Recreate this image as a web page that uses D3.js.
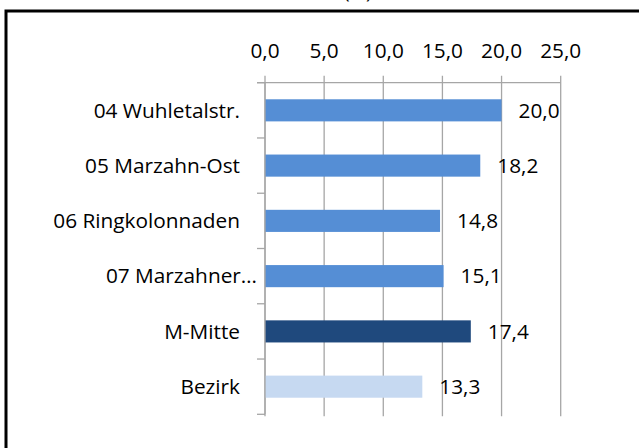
<!DOCTYPE html>
<html>
<head>
<meta charset="utf-8">
<script src="https://cdn.jsdelivr.net/npm/d3@7"></script>
<style>
  body { margin: 0; background: #fff; }
  text { font-family: "Open Sans", sans-serif; fill: #000; }
</style>
</head>
<body>
<script>
// data
var categories = ["04 Wuhletalstr.", "05 Marzahn-Ost", "06 Ringkolonnaden", "07 Marzahner…", "M-Mitte", "Bezirk"];
var values = [20.0, 18.2, 14.8, 15.1, 17.4, 13.3];
var barColors = ["#558ed5", "#558ed5", "#558ed5", "#558ed5", "#1f497d", "#c6d9f1"];
var tickValues = [0, 5, 10, 15, 20, 25];

var width = 639, height = 448;
var fontSize = 20.8;

var svg = d3.select("body").append("svg")
    .attr("width", width)
    .attr("height", height);

// chart frame (runs off the right and bottom edge)
svg.append("rect")
    .attr("x", 6).attr("y", 11)
    .attr("width", 660).attr("height", 460)
    .style("fill", "none")
    .style("stroke", "#000")
    .style("stroke-width", 3);

// title, only the bottom of it is visible
svg.append("text")
    .attr("x", 372).attr("y", -2)
    .attr("text-anchor", "end")
    .style("font-size", "20px")
    .text("(%)");

var plotTop = 82.7, plotBottom = 414.3;

var x = d3.scaleLinear()
    .domain([0, 25])
    .range([265, 560.7]);

var y = d3.scaleBand()
    .domain(categories)
    .range([plotTop, plotBottom])
    .paddingInner(0.6)
    .paddingOuter(0.3);

var yCat = d3.scaleBand()
    .domain(categories)
    .range([plotTop, plotBottom]);

var locale = d3.formatLocale({decimal: ",", thousands: ".", grouping: [3], currency: ["", " €"]});
var fmt = locale.format(".1f");

// vertical gridlines
svg.selectAll(".grid")
    .data(tickValues)
    .enter()
    .append("line")
    .attr("class", "grid")
    .attr("x1", function(d) { return x(d); })
    .attr("x2", function(d) { return x(d); })
    .attr("y1", plotTop - 7)
    .attr("y2", plotBottom + 2)
    .style("stroke", "#a6a6a6")
    .style("stroke-width", 1.3);

// top axis line
svg.append("line")
    .attr("x1", x(0) - 8).attr("x2", x(25))
    .attr("y1", plotTop).attr("y2", plotTop)
    .style("stroke", "#a6a6a6")
    .style("stroke-width", 1.3);

// top tick labels
svg.selectAll(".xlabel")
    .data(tickValues)
    .enter()
    .append("text")
    .attr("class", "xlabel")
    .attr("x", function(d) { return x(d); })
    .attr("y", 58)
    .attr("text-anchor", "middle")
    .style("font-size", fontSize + "px")
    .text(function(d) { return fmt(d); });

// left category axis with ticks on band boundaries
var bounds = categories.map(function(c) { return yCat(c); }).concat([plotBottom]);
svg.selectAll(".ytick")
    .data(bounds)
    .enter()
    .append("line")
    .attr("class", "ytick")
    .attr("x1", x(0) - 8).attr("x2", x(0))
    .attr("y1", function(d) { return d; })
    .attr("y2", function(d) { return d; })
    .style("stroke", "#a6a6a6")
    .style("stroke-width", 1.3);

// bars
svg.selectAll(".bar")
    .data(categories)
    .enter()
    .append("rect")
    .attr("class", "bar")
    .attr("x", x(0))
    .attr("y", function(d) { return y(d); })
    .attr("width", function(d, i) { return x(values[i]) - x(0); })
    .attr("height", y.bandwidth())
    .style("fill", function(d, i) { return barColors[i]; });

svg.append("line")
    .attr("x1", x(0)).attr("x2", x(0))
    .attr("y1", plotTop).attr("y2", plotBottom)
    .style("stroke", "#a6a6a6")
    .style("stroke-width", 1.3);

// category labels
svg.selectAll(".ylabel")
    .data(categories)
    .enter()
    .append("text")
    .attr("class", "ylabel")
    .attr("x", function(d) { return d.slice(-1) === "…" ? x(0) - 8 : 240; })
    .attr("y", function(d) { return y(d) + y.bandwidth() / 2; })
    .attr("dy", "0.35em")
    .attr("text-anchor", "end")
    .style("font-size", fontSize + "px")
    .text(function(d) { return d; });

// value labels
svg.selectAll(".vlabel")
    .data(categories)
    .enter()
    .append("text")
    .attr("class", "vlabel")
    .attr("x", function(d, i) { return x(values[i]) + 17; })
    .attr("y", function(d) { return y(d) + y.bandwidth() / 2; })
    .attr("dy", "0.35em")
    .style("font-size", fontSize + "px")
    .text(function(d, i) { return fmt(values[i]); });
</script>
</body>
</html>
